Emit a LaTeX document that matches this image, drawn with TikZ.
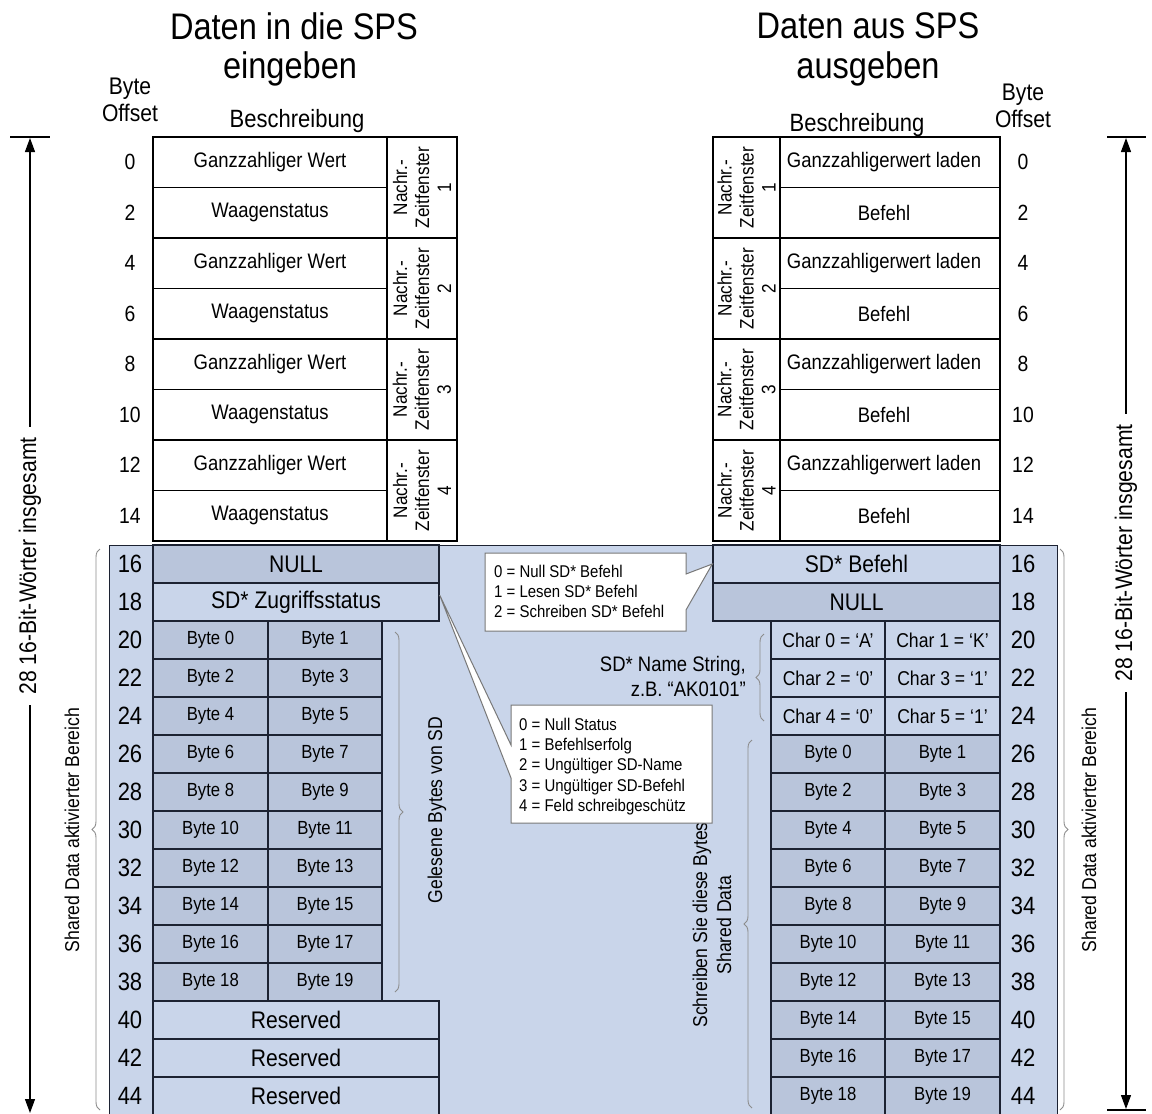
\documentclass[tikz,border=0pt]{standalone}
\usepackage{fontspec}
\setmainfont{Liberation Sans}[FakeStretch=0.88]
\usetikzlibrary{arrows.meta,decorations.pathreplacing,calc}
\definecolor{bgblue}{RGB}{201,213,234}
\definecolor{dkblue}{RGB}{185,197,219}
\definecolor{lnc}{RGB}{28,34,50}
\definecolor{brc}{RGB}{140,140,140}
\definecolor{cog}{RGB}{120,120,120}
\newcommand{\fs}[2]{\fontsize{#1}{#2}\selectfont}
\tikzset{
  tcell/.style={draw=black, line width=1.2pt, inner sep=0pt},
  ttext/.style={font=\fs{21}{24}, inner sep=0pt},
  rotl/.style={rotate=90, align=center, inner sep=0pt, font=\fs{19.5}{22}},
  grp/.style={draw=black, line width=2.6pt, inner sep=0pt},
  offs/.style={font=\fs{22}{26}, inner sep=0pt},
  boffs/.style={font=\fs{25}{28}, inner sep=0pt},
  bcell/.style={draw=lnc, line width=1.3pt, inner sep=0pt, minimum height=38pt, font=\fs{24}{28}},
  bytec/.style={bcell, font=\fs{19}{22}},
  charc/.style={bcell, font=\fs{20}{22}},
  brc/.style={draw=brc, line width=0.9pt, decorate, decoration={brace, amplitude=8pt}},
  callout/.style={draw=cog, line width=1pt, fill=white},
  ctext/.style={anchor=north west, align=left, inner sep=0pt, font=\fs{17}{20.2}},
  title/.style={font=\fs{37}{42}, inner sep=0pt},
  bigarr/.style={line width=1.2pt, {Triangle[length=14pt,width=10pt]}-{Triangle[length=14pt,width=10pt]}},
  sidetext/.style={rotate=90, fill=white, inner xsep=10pt, inner ysep=2pt, font=\fs{24}{28}},
  rottext/.style={rotate=90, inner sep=0pt, font=\fs{20}{24}}
}
\begin{document}
\begin{tikzpicture}[x=1pt,y=-1pt]
\useasboundingbox (0,0) rectangle (1152,1114);

% ---------- titles ----------
\node[title] (t1) at (294,26) {Daten in die SPS};
\node[title] (t2) at (290,69) {eingeben};
\node[title] (t3) at (868,26) {Daten aus SPS};
\node[title] (t4) at (868,69) {ausgeben};
\node[align=center, inner sep=0pt, font=\fs{24}{27}] (bo1) at (130,100) {Byte\\Offset};
\node[align=center, inner sep=0pt, font=\fs{24}{27}] (bo2) at (1023,106) {Byte\\Offset};
\node[inner sep=0pt, font=\fs{25}{28}] (bs1) at (297,121) {Beschreibung};
\node[inner sep=0pt, font=\fs{25}{28}] (bs2) at (857,125) {Beschreibung};

% ---------- shared data background ----------
\node[draw=lnc, line width=1pt, fill=bgblue, minimum width=948pt, minimum height=570pt, inner sep=0pt] (blue) at (583,830) {};

% ---------- upper tables ----------
\foreach \n/\yc in {1/187.5,2/288.5,3/389.5,4/490.5}{
  % left
  \node[tcell, minimum width=234pt, minimum height=50.5pt] (LGw\n) at (270,\yc-25.25) {};
  \node[ttext] (LGwt\n) at (LGw\n) {Ganzzahliger Wert};
  \node[tcell, minimum width=234pt, minimum height=50.5pt] (LWs\n) at (270,\yc+25.25) {};
  \node[ttext] (LWst\n) at (LWs\n) {Waagenstatus};
  \node[tcell, minimum width=70pt, minimum height=101pt] (LNz\n) at (422,\yc) {};
  \node[rotl] (LNt\n) at (LNz\n) {Nachr.-\\Zeitfenster\\\n};
  \node[grp, minimum width=304pt, minimum height=101pt] (LG\n) at (305,\yc) {};
  % right
  \node[tcell, minimum width=220pt, minimum height=50.5pt] (RGw\n) at (890,\yc-25.25) {};
  \node[ttext] (RGwt\n) at (884,\yc-25.25) {Ganzzahligerwert laden};
  \node[tcell, minimum width=220pt, minimum height=50.5pt] (RBf\n) at (890,\yc+25.25) {};
  \node[ttext] (RBft\n) at (884,\yc+25.25) {Befehl};
  \node[tcell, minimum width=67pt, minimum height=101pt] (RNz\n) at (746.5,\yc) {};
  \node[rotl] (RNt\n) at (RNz\n) {Nachr.-\\Zeitfenster\\\n};
  \node[grp, minimum width=287pt, minimum height=101pt] (RG\n) at (856.5,\yc) {};
}
\foreach \v [count=\k from 0] in {0,2,...,14}{
  \node[offs] (LO\v) at (130,162+50.5*\k) {\v};
  \node[offs] (RO\v) at (1023,162+50.5*\k) {\v};
}

% ---------- shared data offsets ----------
\foreach \v [count=\k from 0] in {16,18,...,44}{
  \node[boffs] (LB\v) at (130,564+38*\k) {\v};
  \node[boffs] (RB\v) at (1023,564+38*\k) {\v};
}

% ---------- left shared data cells ----------
\node[bcell, fill=dkblue, minimum width=286pt] (LNull) at (296,564) {NULL};
\node[bcell, fill=bgblue, minimum width=286pt] (LZug) at (296,602) {SD* Zugriffsstatus};
\foreach \a/\b [count=\k from 0] in {0/1,2/3,4/5,6/7,8/9,10/11,12/13,14/15,16/17,18/19}{
  \node[bytec, fill=dkblue, minimum width=115pt] (LBy\a) at (210.5,640+38*\k) {Byte \a};
  \node[bytec, fill=dkblue, minimum width=114pt] (LBy\b) at (325,640+38*\k) {Byte \b};
}
\foreach \k in {0,1,2}{
  \node[bcell, fill=bgblue, minimum width=286pt] (LRes\k) at (296,1020+38*\k) {Reserved};
}

% ---------- right shared data cells ----------
\node[bcell, fill=bgblue, minimum width=287pt] (RSD) at (856.5,564) {SD* Befehl};
\node[bcell, fill=dkblue, minimum width=287pt] (RNull) at (856.5,602) {NULL};
\node[charc, fill=bgblue, minimum width=114pt] (RC0) at (828,640) {Char 0 = ‘A’};
\node[charc, fill=bgblue, minimum width=115pt] (RC1) at (942.5,640) {Char 1 = ‘K’};
\node[charc, fill=bgblue, minimum width=114pt] (RC2) at (828,678) {Char 2 = ‘0’};
\node[charc, fill=bgblue, minimum width=115pt] (RC3) at (942.5,678) {Char 3 = ‘1’};
\node[charc, fill=bgblue, minimum width=114pt] (RC4) at (828,716) {Char 4 = ‘0’};
\node[charc, fill=bgblue, minimum width=115pt] (RC5) at (942.5,716) {Char 5 = ‘1’};
\foreach \a/\b [count=\k from 0] in {0/1,2/3,4/5,6/7,8/9,10/11,12/13,14/15,16/17,18/19}{
  \node[bytec, fill=dkblue, minimum width=114pt] (RBy\a) at (828,754+38*\k) {Byte \a};
  \node[bytec, fill=dkblue, minimum width=115pt] (RBy\b) at (942.5,754+38*\k) {Byte \b};
}

% ---------- braces and their labels ----------
\draw[brc] (100,1110) -- (100,549);
\node[rottext] (sdl) at (72,830) {Shared Data aktivierter Bereich};
\draw[brc] (1060,549) -- (1060,1110);
\node[rottext] (sdr) at (1089,830) {Shared Data aktivierter Bereich};
\draw[brc] (395,632) -- (395,992);
\node[rottext] (gel) at (437,810) {Gelesene Bytes von SD};
\draw[brc] (764,721) -- (764,634);
\node[anchor=east, align=right, inner sep=0pt, font=\fs{21}{25}] (nm) at (746,676) {SD* Name String,\\z.B. “AK0101”};
\draw[brc] (752,1108) -- (752,740);
\node[rotate=90, align=center, inner sep=0pt, font=\fs{20}{24}] (schr) at (712,925) {Schreiben Sie diese Bytes\\Shared Data};

% ---------- callouts ----------
\draw[callout] (485,553) -- (686,553) -- (686,574) -- (RSD.west) -- (686,610) -- (686,631) -- (485,631) -- cycle;
\node[ctext] (c1) at (494,565) {0 = Null SD* Befehl\\1 = Lesen SD* Befehl\\2 = Schreiben SD* Befehl};
\draw[callout] (511,705) -- (712,705) -- (712,823) -- (511,823) -- (511,778) -- ($(LZug.east)+(0,-7)$) -- (511,745) -- cycle;
\node[ctext] (c2) at (519,718) {0 = Null Status\\1 = Befehlserfolg\\2 = Ungültiger SD-Name\\3 = Ungültiger SD-Befehl\\4 = Feld schreibgeschütz};

% ---------- total size arrows ----------
\coordinate (lat) at (30,138);
\coordinate (lab) at (30,1113);
\coordinate (ltl) at (10,137);
\coordinate (ltr) at (50,137);
\draw[line width=1.2pt] (ltl) -- (ltr);
\draw[bigarr] (lat) -- (lab);
\node[sidetext] (lt) at (30,566) {28 16-Bit-Wörter insgesamt};

\coordinate (rat) at (1126,138);
\coordinate (rab) at (1126,1109);
\coordinate (rtl) at (1107,137);
\coordinate (rtr) at (1146,137);
\coordinate (rbl) at (1107,1110);
\coordinate (rbr) at (1146,1110);
\draw[line width=1.2pt] (rtl) -- (rtr);
\draw[line width=1.2pt] (rbl) -- (rbr);
\draw[bigarr] (rat) -- (rab);
\node[sidetext] (rt) at (1126,553) {28 16-Bit-Wörter insgesamt};
\end{tikzpicture}
\end{document}
